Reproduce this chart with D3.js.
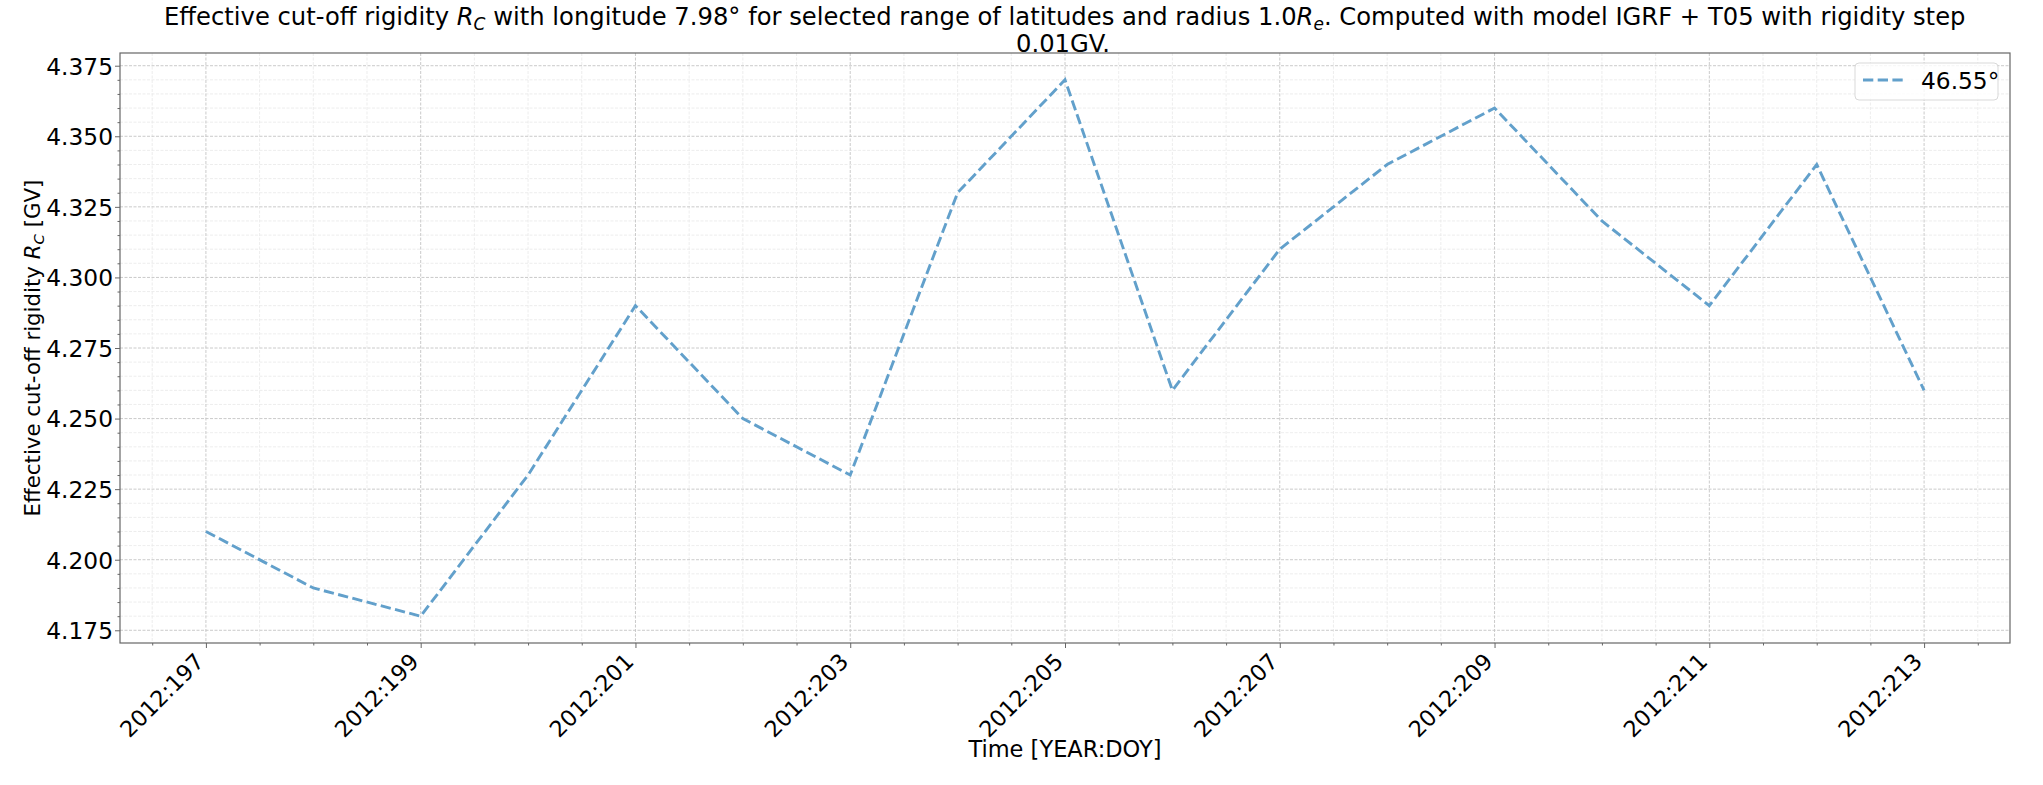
<!DOCTYPE html>
<html><head><meta charset="utf-8">
<script src="https://cdn.jsdelivr.net/npm/d3@7"></script>
<style>body{margin:0;background:#fff;} svg{display:block;} text{font-family:"DejaVu Sans",sans-serif;fill:#000;}</style>
</head><body>
<svg id="c" width="2043" height="785"></svg>
<script>
const days = [197,198,199,200,201,202,203,204,205,206,207,208,209,210,211,212,213];
const values = [4.21,4.19,4.18,4.23,4.29,4.25,4.23,4.33,4.37,4.26,4.31,4.34,4.36,4.32,4.29,4.34,4.26];
const xTicks = [197,199,201,203,205,207,209,211,213];
const yTicks = [4.175,4.200,4.225,4.250,4.275,4.300,4.325,4.350,4.375];
const seriesLabel = "46.55°";
const year = 2012;

const svg = d3.select("#c");
const m = {l:120, r:2010, t:53, b:643};
const x = d3.scaleLinear().domain([196.2, 213.8]).range([m.l, m.r]);
const y = d3.scaleLinear().domain([4.1705, 4.3795]).range([m.b, m.t]);

// minor grid
const xMinor = d3.range(196.5, 213.8, 0.5).filter(d => !xTicks.includes(d));
const yMinor = d3.range(4.175, 4.3795, 0.005).filter(d => !yTicks.some(t => Math.abs(t-d)<1e-6));
const g = svg.append("g");
g.selectAll(".xm").data(xMinor).join("line").attr("x1",d=>x(d)).attr("x2",d=>x(d)).attr("y1",m.t).attr("y2",m.b)
 .attr("stroke","#e8e8e8").attr("stroke-width",0.8).attr("stroke-dasharray","3,1.5");
g.selectAll(".ym").data(yMinor).join("line").attr("y1",d=>y(d)).attr("y2",d=>y(d)).attr("x1",m.l).attr("x2",m.r)
 .attr("stroke","#e8e8e8").attr("stroke-width",0.8).attr("stroke-dasharray","3,1.5");
g.selectAll(".xM").data(xTicks).join("line").attr("x1",d=>x(d)).attr("x2",d=>x(d)).attr("y1",m.t).attr("y2",m.b)
 .attr("stroke","#c4c4c4").attr("stroke-width",0.9).attr("stroke-dasharray","3,1.5");
g.selectAll(".yM").data(yTicks).join("line").attr("y1",d=>y(d)).attr("y2",d=>y(d)).attr("x1",m.l).attr("x2",m.r)
 .attr("stroke","#c4c4c4").attr("stroke-width",0.9).attr("stroke-dasharray","3,1.5");

// line
const line = d3.line().x((d,i)=>x(days[i])).y(d=>y(d));
svg.append("path").datum(values).attr("d", line).attr("fill","none")
  .attr("stroke","#62a0cb").attr("stroke-width",2.9).attr("stroke-dasharray","10.3,4.4");

// spines
svg.append("rect").attr("x",m.l).attr("y",m.t).attr("width",m.r-m.l).attr("height",m.b-m.t)
  .attr("fill","none").attr("stroke","#666").attr("stroke-width",1.2);

// axes
const yAxis = d3.axisLeft(y).tickValues(yTicks).tickFormat(d3.format(".3f")).tickSize(5).tickPadding(2);
const ya = svg.append("g").attr("transform",`translate(${m.l},0)`).call(yAxis);
ya.select(".domain").remove();
ya.selectAll("line").attr("stroke","#666");
ya.selectAll("text").style("font-size","23.3px").attr("dy","0.36em");
const yAxisMinor = d3.axisLeft(y).tickValues(yMinor).tickFormat("").tickSize(2.5);
const yam = svg.append("g").attr("transform",`translate(${m.l},0)`).call(yAxisMinor);
yam.select(".domain").remove(); yam.selectAll("line").attr("stroke","#666");

const xAxis = d3.axisBottom(x).tickValues(xTicks).tickFormat(d=>`${year}:${d}`).tickSize(5);
const xa = svg.append("g").attr("transform",`translate(0,${m.b})`).call(xAxis);
xa.select(".domain").remove();
xa.selectAll("line").attr("stroke","#666");
xa.selectAll("text").style("font-size","22.4px").attr("text-anchor","end")
  .attr("y",0).attr("dy",0)
  .attr("transform","translate(-1,20) rotate(-45)");
const xAxisMinor = d3.axisBottom(x).tickValues(xMinor).tickFormat("").tickSize(2.5);
const xam = svg.append("g").attr("transform",`translate(0,${m.b})`).call(xAxisMinor);
xam.select(".domain").remove(); xam.selectAll("line").attr("stroke","#666");

// axis labels
svg.append("text").attr("x",(m.l+m.r)/2).attr("y",757).attr("text-anchor","middle")
  .style("font-size","22.5px").text("Time [YEAR:DOY]");
const yl = svg.append("text").attr("transform",`translate(40,${(m.t+m.b)/2}) rotate(-90)`)
  .attr("text-anchor","middle").style("font-size","21.3px");
yl.append("tspan").text("Effective cut-off rigidity ");
yl.append("tspan").style("font-style","italic").text("R");
yl.append("tspan").style("font-style","italic").style("font-size","14.9px").attr("dy",4).text("C");
yl.append("tspan").attr("dy",-4).text(" [GV]");

// title
const t1 = svg.append("text").attr("x",0).attr("y",25).style("font-size","25px");
t1.append("tspan").text("Effective cut-off rigidity ");
t1.append("tspan").style("font-style","italic").text("R");
t1.append("tspan").style("font-style","italic").style("font-size","17.5px").attr("dy",5).text("C");
t1.append("tspan").attr("dy",-5).text(" with longitude 7.98° for selected range of latitudes and radius 1.0");
t1.append("tspan").style("font-style","italic").text("R");
t1.append("tspan").style("font-style","italic").style("font-size","17.5px").attr("dy",5).text("e");
t1.append("tspan").attr("dy",-5).text(". Computed with model IGRF + T05 with rigidity step");
const w1 = t1.node().getComputedTextLength();
const target1 = 1802, sx = target1 / w1;
t1.attr("transform",`translate(164,0) scale(${sx},1)`);
const t2 = svg.append("text").attr("x",0).attr("y",52).style("font-size","25px").text("0.01GV.");
const w2 = t2.node().getComputedTextLength();
t2.attr("transform",`translate(${1063 - w2*sx/2},0) scale(${sx},1)`);

// legend
const lg = svg.append("g");
lg.append("rect").attr("x",1855).attr("y",63).attr("width",143).attr("height",37).attr("rx",4)
  .attr("fill","#fff").attr("fill-opacity",0.8).attr("stroke","#d9d9d9").attr("stroke-width",1);
lg.append("line").attr("x1",1863).attr("x2",1903).attr("y1",80).attr("y2",80)
  .attr("stroke","#62a0cb").attr("stroke-width",2.9).attr("stroke-dasharray","10.3,4.4");
lg.append("text").attr("x",1921).attr("y",89).style("font-size","23.3px").text(seriesLabel);
</script>
</body></html>
